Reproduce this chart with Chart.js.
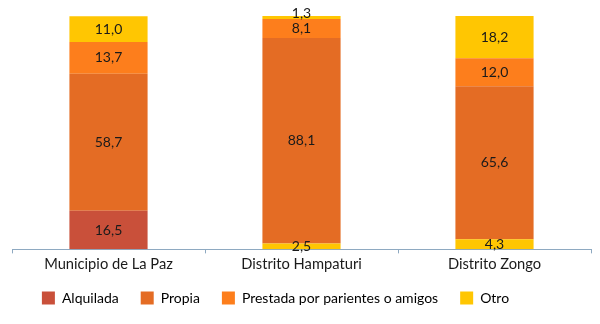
<!DOCTYPE html>
<html>
<head>
<meta charset="utf-8">
<script src="https://cdn.jsdelivr.net/npm/chart.js@4.4.1/dist/chart.umd.min.js"></script>
<style>
  html, body { margin: 0; padding: 0; background: #fff; }
  #wrap { width: 600px; height: 324px; }
</style>
</head>
<body>
<div id="wrap"><canvas id="chart"></canvas></div>
<script>
// Data
const categories = ['Municipio de La Paz', 'Distrito Hampaturi', 'Distrito Zongo'];
const alquilada = [16.5, 2.5, 4.3];
const propia = [58.7, 88.1, 65.6];
const prestada = [13.7, 8.1, 12.0];
const otro = [11.0, 1.3, 18.2];

const colors = {
    alquilada: '#C9503A',
    propia: '#E46C24',
    prestada: '#FD7E1C',
    otro: '#FFC602'
};

// Draw value labels centred in every segment
const valueLabels = {
    id: 'valueLabels',
    afterDatasetsDraw(chart) {
        const ctx = chart.ctx;
        ctx.save();
        ctx.font = '14px Lato, "Open Sans", sans-serif';
        ctx.fillStyle = '#1a1a1a';
        ctx.textAlign = 'center';
        ctx.textBaseline = 'middle';
        chart.data.datasets.forEach((ds, i) => {
            const meta = chart.getDatasetMeta(i);
            meta.data.forEach((bar, j) => {
                const v = ds.data[j];
                const y = (bar.y + bar.base) / 2;
                let dy = 0;
                if (i === 3 && v < 2) dy = -4;
                ctx.fillText(v.toFixed(1).replace('.', ','), bar.x, y + dy);
            });
        });
        ctx.restore();
    }
};

// The original legend sits a bit left of centre and close to the axis labels
const moveLegend = {
    id: 'moveLegend',
    afterLayout(chart) {
        const lg = chart.legend;
        lg.left -= 26;
        lg.right -= 26;
        lg.top -= 6;
        lg.bottom -= 6;
    }
};

const ctx = document.getElementById('chart').getContext('2d');
new Chart(ctx, {
    type: 'bar',
    data: {
        labels: categories,
        datasets: [
            {
                label: 'Alquilada',
                data: alquilada,
                // the two districts show this bottom segment in yellow in the original
                backgroundColor: [colors.alquilada, colors.otro, colors.otro]
            },
            { label: 'Propia', data: propia, backgroundColor: colors.propia },
            { label: 'Prestada por parientes o amigos', data: prestada, backgroundColor: colors.prestada },
            { label: 'Otro', data: otro, backgroundColor: colors.otro }
        ]
    },
    options: {
        responsive: true,
        maintainAspectRatio: false,
        animation: false,
        layout: { padding: { left: 12, right: 9, top: 16, bottom: 3 } },
        datasets: {
            bar: { barPercentage: 1, categoryPercentage: 0.405 }
        },
        scales: {
            x: {
                stacked: true,
                grid: { display: true, drawOnChartArea: false, tickLength: 4, color: '#8EA9C1', offset: true },
                border: { color: '#8EA9C1', width: 1 },
                ticks: {
                    color: '#1a1a1a',
                    font: { family: 'Lato, "Open Sans", sans-serif', size: 14.7 },
                    padding: 2
                }
            },
            y: {
                stacked: true,
                display: false,
                min: 0,
                max: 100
            }
        },
        plugins: {
            legend: {
                position: 'bottom',
                labels: {
                    color: '#1a1a1a',
                    font: { family: 'Lato, "Open Sans", sans-serif', size: 14 },
                    boxWidth: 13,
                    boxHeight: 13,
                    padding: 22,
                    generateLabels(chart) {
                        return chart.data.datasets.map((ds, i) => ({
                            text: ds.label,
                            fillStyle: Object.values(colors)[i],
                            strokeStyle: Object.values(colors)[i],
                            lineWidth: 0,
                            datasetIndex: i
                        }));
                    }
                }
            },
            tooltip: { enabled: false }
        }
    },
    plugins: [valueLabels, moveLegend]
});
</script>
</body>
</html>
